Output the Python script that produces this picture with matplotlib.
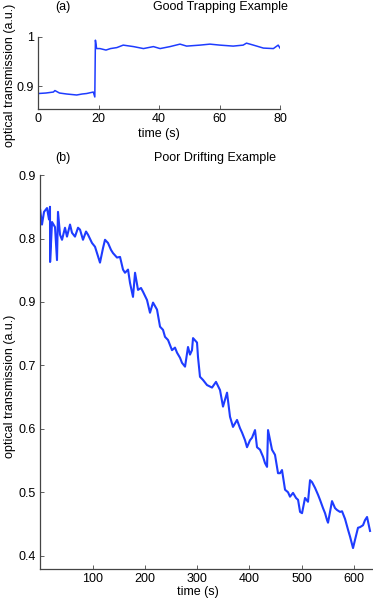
import matplotlib
matplotlib.use("Agg")
import matplotlib.pyplot as plt

plt.rcParams['font.family'] = ['Liberation Sans', 'DejaVu Sans']

# (a) good trapping: time (s) vs optical transmission (a.u.)
a_time = [0, 2.5, 5.0, 5.5, 7, 9.4, 12.7, 14.5, 16.0, 18.2, 18.7, 18.9,
          19.3, 20.4, 22.4, 23.9, 26, 28.1, 31.5, 34.8, 38.1, 40.3, 43.6,
          46.9, 49.1, 53.5, 56.8, 60.1, 64.5, 67.8, 68.9, 71.2, 74.5, 77.8,
          79.4, 80]
a_trans = [0.885, 0.886, 0.888, 0.891, 0.886, 0.884, 0.882, 0.884, 0.885, 0.888,
           0.878, 0.993, 0.976, 0.976, 0.973, 0.976, 0.978, 0.983, 0.980, 0.976,
           0.980, 0.976, 0.980, 0.985, 0.981, 0.983, 0.985, 0.983, 0.981, 0.983,
           0.987, 0.983, 0.977, 0.976, 0.983, 0.977]

# (b) poor drifting
b_time = [0, 3.4, 7.3, 13.0, 16.8, 18.7, 18.9, 22.6, 28.3, 32.1, 34.0, 37.9,
          41.7, 47.4, 51.2, 57.0, 60.8, 66.5, 72.3, 76.1, 81.8, 87.6, 91.4, 99.0,
          104.8, 108.6, 114.3, 120.1, 123.9, 129.6, 135.4, 139.2, 146.8, 152.6,
          158.3, 162.1, 167.9, 171.7, 177.4, 181.3, 187.0, 192.7, 196.6, 204.2,
          209.9, 215.7, 223.3, 229.1, 234.8, 238.6, 244.4, 252.0, 257.7, 261.6,
          267.3, 271.1, 276.9, 282.6, 286.4, 290.2, 292.2, 299.8, 301.7, 305.5,
          311.3, 318.9, 328.5, 336.1, 343.8, 349.5, 357.2, 362.9, 368.6, 376.3,
          382.0, 385.9, 391.6, 395.4, 401.1, 405.0, 410.7, 414.5, 420.3, 426.0,
          429.8, 433.7, 435.6, 443.2, 448.9, 454.7, 458.5, 462.3, 468.1, 473.8,
          477.6, 483.4, 489.1, 493.0, 496.8, 500.6, 506.3, 512.0, 515.9, 519.7,
          525.4, 531.2, 535.0, 540.7, 544.6, 548.4, 550.3, 557.9, 563.7, 567.5,
          573.2, 577.1, 582.8, 588.5, 592.4, 598.1, 601.9, 607.6, 611.5, 617.2,
          621.0, 624.9, 630.6]
b_trans = [0.945, 0.922, 0.942, 0.948, 0.930, 0.950, 0.863, 0.926, 0.918, 0.866,
           0.942, 0.906, 0.898, 0.917, 0.903, 0.922, 0.909, 0.903, 0.917, 0.914,
           0.898, 0.911, 0.906, 0.893, 0.887, 0.877, 0.862, 0.885, 0.898, 0.893,
           0.882, 0.877, 0.870, 0.871, 0.851, 0.846, 0.851, 0.830, 0.808, 0.846,
           0.819, 0.822, 0.816, 0.803, 0.783, 0.799, 0.788, 0.761, 0.756, 0.745,
           0.740, 0.724, 0.728, 0.720, 0.712, 0.704, 0.698, 0.729, 0.717, 0.724,
           0.743, 0.736, 0.713, 0.682, 0.677, 0.669, 0.665, 0.674, 0.661, 0.635,
           0.657, 0.619, 0.603, 0.614, 0.601, 0.594, 0.582, 0.571, 0.582, 0.586,
           0.598, 0.571, 0.567, 0.556, 0.546, 0.540, 0.598, 0.567, 0.559, 0.530,
           0.530, 0.535, 0.504, 0.500, 0.493, 0.499, 0.491, 0.488, 0.469, 0.467,
           0.491, 0.485, 0.519, 0.516, 0.507, 0.496, 0.488, 0.475, 0.467, 0.456,
           0.452, 0.486, 0.475, 0.472, 0.469, 0.470, 0.458, 0.441, 0.430, 0.412,
           0.425, 0.444, 0.445, 0.448, 0.456, 0.461, 0.439]

b_yticks = [0.4, 0.5, 0.6, 0.7, 0.8, 0.9, 1.0]
b_yticklabels = ['0.4', '0.5', '0.6', '0.7', '0.9', '0.8', '0.9']

line_col = '#1e3cff'
fs = 9

fig = plt.figure(figsize=(3.73, 6.0), dpi=100)

ax1 = fig.add_axes([0.1027, 0.8178, 0.648, 0.121])
ax1.plot(a_time, a_trans, color=line_col, lw=1.1)
ax1.set_xlim(0, 80)
ax1.set_ylim(0.853, 1.0)
ax1.set_xticks([0, 20, 40, 60, 80])
ax1.set_yticks([0.9, 1.0])
ax1.set_yticklabels(['0.9', '1'])

ax2 = fig.add_axes([0.1078, 0.0522, 0.889, 0.656])
ax2.plot(b_time, b_trans, color=line_col, lw=1.5)
ax2.set_xlim(0, 634)
ax2.set_ylim(0.3795, 1.0)
ax2.set_xticks([100, 200, 300, 400, 500, 600])
ax2.set_yticks(b_yticks)
ax2.set_yticklabels(b_yticklabels)

for ax in (ax1, ax2):
    for s in ('top', 'right'):
        ax.spines[s].set_visible(False)
    for s in ('left', 'bottom'):
        ax.spines[s].set_color('#444444')
        ax.spines[s].set_linewidth(0.9)
    ax.tick_params(direction='in', length=3, width=0.6, colors='#444444',
                   labelcolor='black', labelsize=fs, pad=3)

fig.text(63 / 373, 1 - 7 / 600, '(a)', ha='center', va='center', fontsize=fs)
fig.text(220 / 373, 1 - 7 / 600, 'Good Trapping Example', ha='center', va='center', fontsize=fs)
fig.text(63 / 373, 1 - 158 / 600, '(b)', ha='center', va='center', fontsize=fs)
fig.text(215 / 373, 1 - 158 / 600, 'Poor Drifting Example', ha='center', va='center', fontsize=fs)

fig.text(159 / 373, 1 - 134 / 600, 'time (s)', ha='center', va='center', fontsize=fs)
fig.text(198 / 373, 1 - 592 / 600, 'time (s)', ha='center', va='center', fontsize=fs)

fig.text(10 / 373, 1 - 75 / 600, 'optical transmission (a.u.)', rotation=90,
         ha='center', va='center', fontsize=fs)
fig.text(10 / 373, 1 - 386 / 600, 'optical transmission (a.u.)', rotation=90,
         ha='center', va='center', fontsize=fs)

fig.savefig('out.png', dpi=100)
